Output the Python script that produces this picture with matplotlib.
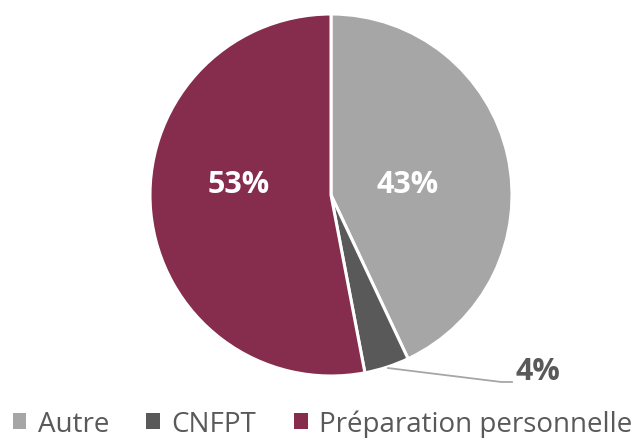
import matplotlib.pyplot as plt

# données
categories = ['Autre', 'CNFPT', 'Préparation personnelle']
valeurs = [43, 4, 53]
couleurs = ['#A6A6A6', '#595959', '#862C4C']

plt.rcParams['font.family'] = ['Open Sans', 'DejaVu Sans']

fig = plt.figure(figsize=(6.38, 4.39), dpi=100)
# axe carré centré sur le camembert
cx, cy, r = 331, 196, 181
ax = fig.add_axes([(cx - r) / 638, (439 - cy - r) / 439, 2 * r / 638, 2 * r / 439])

wedges, _ = ax.pie(valeurs, colors=couleurs, startangle=90, counterclock=False,
                   radius=1, wedgeprops=dict(edgecolor='white', linewidth=2.2))
ax.set_aspect('auto')
ax.set_xlim(-1, 1)
ax.set_ylim(-1, 1)
ax.axis('off')

# étiquettes dans les parts
ax.text(0.425, 0.06, f'{valeurs[0]}%', color='white', fontsize=22, fontweight='bold',
        ha='center', va='center')
ax.text(-0.51, 0.06, f'{valeurs[2]}%', color='white', fontsize=22, fontweight='bold',
        ha='center', va='center')

# étiquette extérieure pour 4%
ax.plot([0.315, 0.94, 1.0], [-0.956, -1.033, -1.033], color='#A6A6A6', lw=1.3,
        clip_on=False)
ax.text(1.145, -0.972, f'{valeurs[1]}%', color='#595959', fontsize=22, fontweight='bold',
        ha='center', va='center', clip_on=False)

leg = fig.legend(wedges, categories, loc='center', bbox_to_anchor=(0.505, 1 - 425 / 439),
                 ncol=3, frameon=False, fontsize=20, handlelength=0.5, handleheight=0.5,
                 handletextpad=0.4, columnspacing=1.35, labelcolor='#595959',
                 borderaxespad=0, borderpad=0)
for h in leg.legend_handles:
    h.set_edgecolor('none')

fig.savefig('out.png', dpi=100)
